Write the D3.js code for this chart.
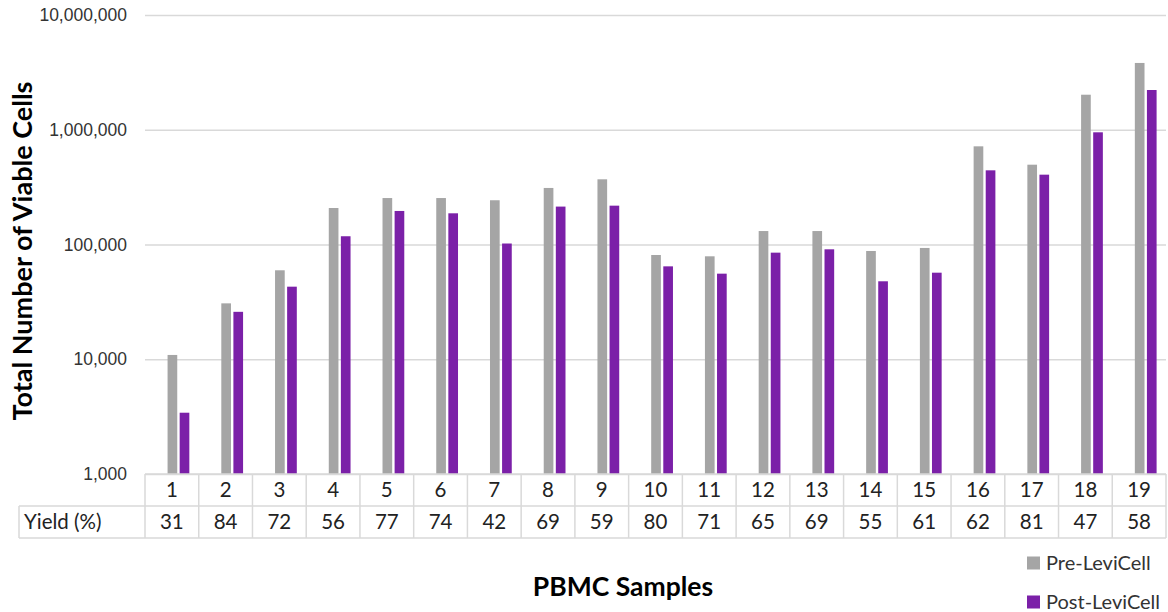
<!DOCTYPE html>
<html>
<head>
<meta charset="utf-8">
<script src="https://cdn.jsdelivr.net/npm/d3@7"></script>
<style>
  body { margin: 0; background: #fff; }
  svg { display: block; font-family: Lato, "Open Sans", sans-serif; }
</style>
</head>
<body>
<svg id="chart" width="1168" height="612"></svg>
<script>
const samples = ['1', '2', '3', '4', '5', '6', '7', '8', '9', '10',
  '11', '12', '13', '14', '15', '16', '17', '18', '19'];
const preLeviCell = [10900, 30700, 59600, 208000, 254000, 254000, 243000, 311000, 370000, 81000,
  78900, 131000, 131000, 87800, 93300, 717000, 496000, 2020000, 3820000];
const postLeviCell = [3420, 25900, 42900, 118000, 196000, 187000, 102000, 214000, 218000, 64500,
  55700, 84900, 90800, 47800, 56800, 443000, 406000, 950000, 2220000];
const yieldPct = [31, 84, 72, 56, 77, 74, 42, 69, 59, 80, 71, 65, 69, 55, 61, 62, 81, 47, 58];
const yTicks = [1000, 10000, 100000, 1000000, 10000000];
const seriesNames = ['Pre-LeviCell', 'Post-LeviCell'];
const seriesColors = ['#a5a5a5', '#7b20a8'];

const margin = { top: 15, right: 2, bottom: 138, left: 145 };
const width = 1168;
const height = 612;
const plotBottom = height - margin.bottom;
const plotRight = width - margin.right;

const svg = d3.select('#chart');

const x = d3.scaleBand().domain(samples).range([margin.left, plotRight]);
// bars sit a little right of the table column centres, as in the original
const xSub = d3.scaleBand().domain(seriesNames)
  .range([x.bandwidth() * 0.42, x.bandwidth() * 0.825])
  .paddingInner(0.2);
const y = d3.scaleLog().domain([1000, 10000000]).range([plotBottom, margin.top]);

// gridlines + tick labels
const yAxis = d3.axisLeft(y)
  .tickValues(yTicks)
  .tickFormat(d3.format(','))
  .tickSize(-(plotRight - margin.left))
  .tickPadding(18);

const yAxisG = svg.append('g')
  .attr('class', 'y-axis')
  .attr('transform', `translate(${margin.left},0)`)
  .call(yAxis);
yAxisG.select('.domain').remove();
yAxisG.selectAll('.tick line').attr('stroke', '#d9d9d9').attr('stroke-width', 1.5);
yAxisG.selectAll('.tick text')
  .attr('fill', '#333')
  .attr('font-size', 17.5);

// bars
const rows = samples.map((s, i) => ({ sample: s, values: [preLeviCell[i], postLeviCell[i]] }));
const groups = svg.append('g').attr('class', 'bars')
  .selectAll('g')
  .data(rows)
  .join('g')
  .attr('transform', (d) => `translate(${x(d.sample)},0)`);

groups.selectAll('rect')
  .data((d) => d.values.map((v, k) => ({ key: seriesNames[k], value: v, k })))
  .join('rect')
  .attr('x', (d) => xSub(d.key))
  .attr('width', xSub.bandwidth())
  .attr('y', (d) => y(d.value))
  .attr('height', (d) => plotBottom - y(d.value))
  .attr('fill', (d) => seriesColors[d.k]);

// data table under the plot
const rowH = 32;
const tableLeft = 19;
const table = svg.append('g').attr('class', 'table');
const lineColor = '#d9d9d9';

// horizontal rules
table.append('line')
  .attr('x1', margin.left).attr('x2', plotRight)
  .attr('y1', plotBottom).attr('y2', plotBottom);
table.append('line')
  .attr('x1', tableLeft).attr('x2', plotRight)
  .attr('y1', plotBottom + rowH).attr('y2', plotBottom + rowH);
table.append('line')
  .attr('x1', tableLeft).attr('x2', plotRight)
  .attr('y1', plotBottom + rowH * 2).attr('y2', plotBottom + rowH * 2);

// vertical rules
const edges = samples.map((s) => x(s)).concat([plotRight]);
table.selectAll('line.v')
  .data(edges)
  .join('line')
  .attr('class', 'v')
  .attr('x1', (d) => d).attr('x2', (d) => d)
  .attr('y1', plotBottom).attr('y2', plotBottom + rowH * 2);
table.append('line')
  .attr('x1', tableLeft).attr('x2', tableLeft)
  .attr('y1', plotBottom + rowH).attr('y2', plotBottom + rowH * 2);
table.selectAll('line').attr('stroke', lineColor).attr('stroke-width', 1.5);

table.selectAll('text.sample')
  .data(samples)
  .join('text')
  .attr('class', 'sample')
  .attr('x', (d) => x(d) + x.bandwidth() / 2)
  .attr('y', plotBottom + rowH / 2)
  .attr('dy', '0.35em')
  .attr('text-anchor', 'middle')
  .attr('font-size', 20.5)
  .attr('fill', '#222')
  .text((d) => d);

table.selectAll('text.yield')
  .data(yieldPct)
  .join('text')
  .attr('class', 'yield')
  .attr('x', (d, i) => x(samples[i]) + x.bandwidth() / 2)
  .attr('y', plotBottom + rowH * 1.5)
  .attr('dy', '0.35em')
  .attr('text-anchor', 'middle')
  .attr('font-size', 20.5)
  .attr('fill', '#222')
  .text((d) => d);

table.append('text')
  .attr('x', tableLeft + 5)
  .attr('y', plotBottom + rowH * 1.5)
  .attr('dy', '0.35em')
  .attr('font-size', 20.5)
  .attr('fill', '#222')
  .text('Yield (%)');

// axis titles
svg.append('text')
  .attr('transform', `translate(32,251) rotate(-90)`)
  .attr('text-anchor', 'middle')
  .attr('font-size', 27)
  .attr('font-weight', 'bold')
  .attr('fill', '#000')
  .text('Total Number of Viable Cells');

svg.append('text')
  .attr('x', 623)
  .attr('y', 587)
  .attr('dy', '0.35em')
  .attr('text-anchor', 'middle')
  .attr('font-size', 26.5)
  .attr('font-weight', 'bold')
  .attr('fill', '#000')
  .text('PBMC Samples');

// legend
const legend = svg.append('g')
  .attr('class', 'legend')
  .selectAll('g')
  .data(seriesNames)
  .join('g')
  .attr('transform', (d, i) => `translate(1027,${563 + i * 39})`);
legend.append('rect')
  .attr('x', 0).attr('y', -6.5)
  .attr('width', 13).attr('height', 13)
  .attr('fill', (d, i) => seriesColors[i]);
legend.append('text')
  .attr('x', 19)
  .attr('dy', '0.35em')
  .attr('font-size', 20)
  .attr('fill', '#333')
  .text((d) => d);
</script>
</body>
</html>
